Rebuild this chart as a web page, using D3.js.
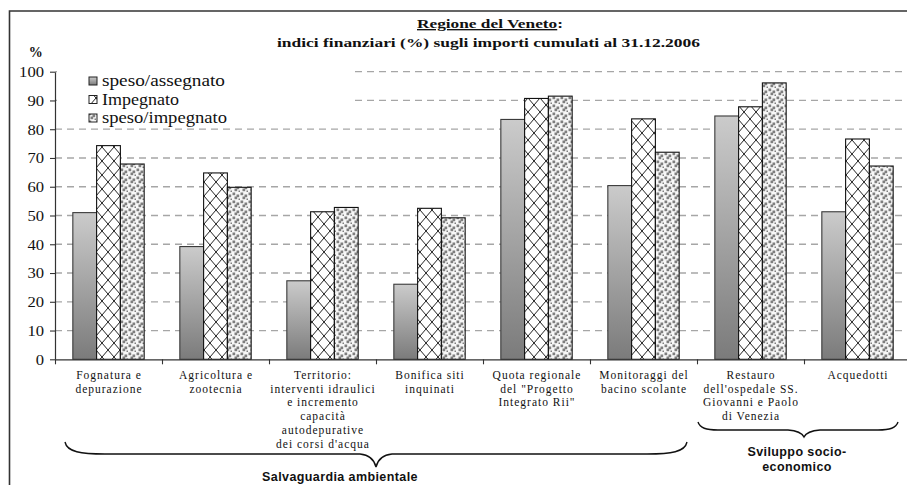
<!DOCTYPE html>
<html>
<head>
<meta charset="utf-8">
<script src="https://cdn.jsdelivr.net/npm/d3@7"></script>
<style>
  html, body { margin: 0; padding: 0; background: #fff; }
  svg { display: block; }
</style>
</head>
<body>
<svg id="chart" width="907" height="485"></svg>
<script>
// ---------------- DATA ----------------
const categories = [
  ["Fognatura e", "depurazione"],
  ["Agricoltura e", "zootecnia"],
  ["Territorio:", "interventi idraulici", "e incremento", "capacità", "autodepurative", "dei corsi d'acqua"],
  ["Bonifica siti", "inquinati"],
  ["Quota regionale", "del \"Progetto", "Integrato Rii\""],
  ["Monitoraggi del", "bacino scolante"],
  ["Restauro", "dell'ospedale SS.", "Giovanni e Paolo", "di Venezia"],
  ["Acquedotti"]
];
const seriesNames = ["speso/assegnato", "Impegnato", "speso/impegnato"];
const spesoAssegnato = [51.0, 39.2, 27.3, 26.1, 83.4, 60.4, 84.6, 51.3];
const impegnato      = [74.3, 64.8, 51.3, 52.5, 90.7, 83.6, 87.8, 76.6];
const spesoImpegnato = [67.9, 59.8, 52.8, 49.2, 91.5, 72.0, 96.1, 67.2];
const yTicks = [0, 10, 20, 30, 40, 50, 60, 70, 80, 90, 100];
const titleLine1 = "Regione del Veneto";
const titleLine2 = "indici finanziari (%) sugli importi cumulati al 31.12.2006";
const groupLabels = [
  { lines: ["Salvaguardia ambientale"], from: 0, to: 5 },
  { lines: ["Sviluppo socio-", "economico"], from: 6, to: 7 }
];

// ---------------- SETUP ----------------
const svg = d3.select("#chart");
const serif = "'Liberation Serif', 'Times New Roman', serif";
const sans = "'Liberation Sans', Arial, sans-serif";

const plotLeft = 55, plotRight = 911, plotTop = 71.7, plotBottom = 359.3;

const x0 = d3.scaleBand().domain(d3.range(categories.length)).range([plotLeft, plotRight]).padding(0);
const bw = x0.bandwidth();
const gap = bw * 0.75 / 4.5;
const x1 = d3.scaleBand().domain(d3.range(seriesNames.length)).range([gap, bw - gap]).padding(0);
const y = d3.scaleLinear().domain([0, 100]).range([plotBottom, plotTop]);

// defs: gradient + patterns
const defs = svg.append("defs");
const grad = defs.append("linearGradient").attr("id", "g1")
  .attr("x1", 0).attr("y1", 0).attr("x2", 0).attr("y2", 1);
grad.append("stop").attr("offset", "0%").attr("stop-color", "#cbcbcb");
grad.append("stop").attr("offset", "100%").attr("stop-color", "#7b7b7b");

const p2 = defs.append("pattern").attr("id", "p2").attr("patternUnits", "userSpaceOnUse")
  .attr("width", 12).attr("height", 14);
p2.append("rect").attr("width", 12).attr("height", 14).attr("fill", "#fff");
p2.append("path").attr("d", "M0,0 L12,14 M12,0 L0,14")
  .attr("stroke", "#222").attr("stroke-width", 1).attr("fill", "none");

const p3 = defs.append("pattern").attr("id", "p3").attr("patternUnits", "userSpaceOnUse")
  .attr("width", 8).attr("height", 8);
p3.append("rect").attr("width", 8).attr("height", 8).attr("fill", "#f7f7f7");
[[0.5, 0.5], [4.5, 2.5], [2.5, 4.5], [6.5, 6.5]].forEach(([a, b]) =>
  p3.append("rect").attr("x", a).attr("y", b).attr("width", 2.7).attr("height", 2.7).attr("fill", "#7e7e7e"));

const fills = ["url(#g1)", "url(#p2)", "url(#p3)"];
const strokes = ["#3a3a3a", "#111", "#111"];

// frame
svg.append("path").attr("d", "M9.5,490 L9.5,11 L912,11")
  .attr("fill", "none").attr("stroke", "#333").attr("stroke-width", 1.6);

// gridlines
svg.append("g").selectAll("line").data(yTicks.filter(v => v > 0)).join("line")
  .attr("x1", plotLeft).attr("x2", plotRight)
  .attr("y1", d => y(d)).attr("y2", d => y(d))
  .attr("stroke", "#a6a6a6").attr("stroke-width", 1.3).attr("stroke-dasharray", "7,5");

// legend background
svg.append("rect").attr("x", 57).attr("y", 63).attr("width", 296).attr("height", 61).attr("fill", "#fff");

// bars
const seriesData = [spesoAssegnato, impegnato, spesoImpegnato];
const barG = svg.append("g");
seriesData.forEach((vals, s) => {
  barG.append("g").selectAll("rect").data(vals).join("rect")
    .attr("x", (d, i) => x0(i) + x1(s))
    .attr("y", d => y(d))
    .attr("width", x1.bandwidth())
    .attr("height", d => y(0) - y(d))
    .attr("fill", fills[s])
    .attr("stroke", strokes[s]).attr("stroke-width", 1.1);
});

// y axis
const yAxis = d3.axisLeft(y).tickValues(yTicks).tickSize(5).tickSizeOuter(0).tickPadding(6);
const yg = svg.append("g").attr("transform", `translate(${plotLeft},0)`).call(yAxis);
yg.select(".domain").attr("stroke", "#333").attr("stroke-width", 1.2);
yg.selectAll(".tick line").attr("stroke", "#333").attr("stroke-width", 1.1);
yg.selectAll(".tick text")
  .attr("font-family", serif).attr("font-size", 15).attr("fill", "#111")
  .attr("textLength", d => String(d).length * 8.3).attr("lengthAdjust", "spacingAndGlyphs");

// x axis
const xAxisScale = d3.scaleLinear().domain([0, categories.length]).range([plotLeft, plotRight]);
const xAxis = d3.axisBottom(xAxisScale).tickValues(d3.range(categories.length + 1)).tickSize(5).tickSizeOuter(0).tickFormat("");
const xg = svg.append("g").attr("transform", `translate(0,${plotBottom})`).call(xAxis);
xg.select(".domain").attr("stroke", "#333").attr("stroke-width", 1.2);
xg.selectAll(".tick line").attr("stroke", "#333").attr("stroke-width", 1.1);

// category labels
const catG = svg.append("g");
categories.forEach((lines, i) => {
  const cx = x0(i) + bw / 2;
  const t = catG.append("text")
    .attr("font-family", serif).attr("font-size", 11.5).attr("letter-spacing", 1)
    .attr("text-anchor", "middle").attr("fill", "#111");
  lines.forEach((ln, k) => {
    t.append("tspan").attr("x", cx + 0.5).attr("y", 379 + k * 13.7).text(ln);
  });
});

// "%" label
svg.append("text").attr("x", 35.7).attr("y", 57).attr("text-anchor", "middle")
  .attr("font-family", serif).attr("font-weight", "bold").attr("font-size", 14).attr("fill", "#111")
  .text("%");

// title
const t1 = svg.append("text").attr("x", 490).attr("y", 28).attr("text-anchor", "middle")
  .attr("font-family", serif).attr("font-weight", "bold").attr("font-size", 13.5).attr("fill", "#111")
  .attr("textLength", 146).attr("lengthAdjust", "spacingAndGlyphs");
t1.append("tspan").attr("text-decoration", "underline").text(titleLine1);
t1.append("tspan").text(":");
svg.append("text").attr("x", 488.5).attr("y", 47).attr("text-anchor", "middle")
  .attr("font-family", serif).attr("font-weight", "bold").attr("font-size", 13.5).attr("fill", "#111")
  .attr("textLength", 423).attr("lengthAdjust", "spacingAndGlyphs")
  .text(titleLine2);

// legend
const legG = svg.append("g");
const legW = [123, 77, 125];
seriesNames.forEach((n, s) => {
  const cy = 81 + s * 18.5;
  legG.append("rect").attr("x", 89).attr("y", cy - 4).attr("width", 8).attr("height", 8)
    .attr("fill", fills[s]).attr("stroke", "#222").attr("stroke-width", 1);
  legG.append("text").attr("x", 102).attr("y", cy + 5)
    .attr("font-family", serif).attr("font-size", 16).attr("fill", "#111")
    .attr("textLength", legW[s]).attr("lengthAdjust", "spacingAndGlyphs")
    .text(n);
});

// braces
function brace(xa, xb, yEnd, yFlat, yTip, tipX, curl) {
  const p = d3.path();
  p.moveTo(xa, yEnd);
  p.bezierCurveTo(xa + 2, yFlat - 2, xa + curl * 0.4, yFlat, xa + curl, yFlat);
  p.lineTo(tipX - 16, yFlat);
  p.quadraticCurveTo(tipX - 3, yFlat + 1, tipX, yTip);
  p.quadraticCurveTo(tipX + 3, yFlat + 1, tipX + 16, yFlat);
  p.lineTo(xb - curl, yFlat);
  p.bezierCurveTo(xb - curl * 0.4, yFlat, xb - 2, yFlat - 2, xb, yEnd);
  return p.toString();
}
const braceSpecs = [
  { xa: 65, xb: 687, yEnd: 442, yFlat: 454, yTip: 467, curl: 40, textX: 340, textY: [481] },
  { xa: 698, xb: 898, yEnd: 422, yFlat: 430, yTip: 437, curl: 20, textX: 797, textY: [456, 471] }
];
groupLabels.forEach((g, i) => {
  const b = braceSpecs[i];
  const tipX = (x0(g.from) + x0(g.to) + bw) / 2;
  svg.append("path").attr("d", brace(b.xa, b.xb, b.yEnd, b.yFlat, b.yTip, tipX, b.curl))
    .attr("fill", "none").attr("stroke", "#111").attr("stroke-width", 1.4);
  const t = svg.append("text").attr("text-anchor", "middle")
    .attr("font-family", sans).attr("font-weight", "bold").attr("font-size", 12.5)
    .attr("letter-spacing", 0.4).attr("fill", "#111");
  g.lines.forEach((ln, k) => t.append("tspan").attr("x", b.textX).attr("y", b.textY[k]).text(ln));
});
</script>
</body>
</html>
